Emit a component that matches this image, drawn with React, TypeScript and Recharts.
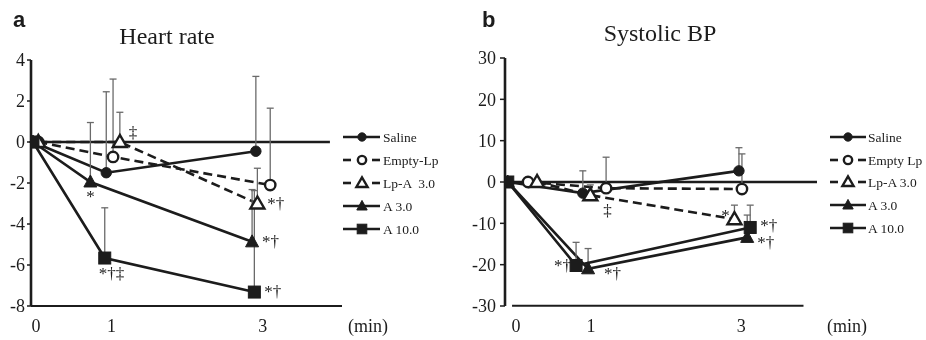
import React from 'react';
import { LineChart, Line, XAxis, YAxis, ErrorBar, ReferenceLine } from 'recharts';

const INK = '#1c1c1c';
const BAR = '#6a6a6a';
const SERIF = 'Liberation Serif, Tinos, Times New Roman, DejaVu Serif, serif';
const SANS = 'Liberation Sans, Arial, sans-serif';

// ---- shared ----
const timeTicks = [0, 1, 3];
const hrTicks = [-8, -6, -4, -2, 0, 2, 4];
const bpTicks = [-30, -20, -10, 0, 10, 20, 30];
const hrLegendLabels = ['Saline', 'Empty-Lp', 'Lp-A  3.0', 'A 3.0', 'A 10.0'];
const bpLegendLabels = ['Saline', 'Empty Lp', 'Lp-A 3.0', 'A 3.0', 'A 10.0'];
const markerShapes = ['filledCircle', 'openCircle', 'openTriangle', 'filledTriangle', 'filledSquare'];
const dashedFlags = [false, true, true, false, false];

// ---- a: Heart rate (plotted time, change, +SD, annotation) ----
const hrSalineTime = [-0.04, 0.93, 2.91];
const hrSalineValue = [0, -1.5, -0.45];
const hrSalineSD = [0, 3.95, 3.65];
const hrSalineNote = ['', '', ''];
const hrSalinePlace = ['', '', ''];

const hrEmptyTime = [0.03, 1.02, 3.1];
const hrEmptyValue = [0, -0.73, -2.1];
const hrEmptySD = [0, 3.8, 3.75];
const hrEmptyNote = ['', '', ''];
const hrEmptyPlace = ['', '', ''];

const hrLpATime = [0.03, 1.11, 2.93];
const hrLpAValue = [0, 0, -3.0];
const hrLpASD = [0, 1.45, 1.72];
const hrLpANote = ['', '‡', '*†'];
const hrLpAPlace = ['', 'aboveRight', 'right'];

const hrA3Time = [-0.04, 0.72, 2.86];
const hrA3Value = [0, -1.95, -4.87];
const hrA3SD = [0, 2.9, 2.55];
const hrA3Note = ['', '*', '*†'];
const hrA3Place = ['', 'below', 'right'];

const hrA10Time = [-0.04, 0.91, 2.89];
const hrA10Value = [0, -5.66, -7.32];
const hrA10SD = [0, 2.45, 4.95];
const hrA10Note = ['', '*†‡', '*†'];
const hrA10Place = ['', 'belowRight', 'right'];

// ---- b: Systolic BP ----
const bpSalineTime = [-0.11, 0.89, 2.97];
const bpSalineValue = [0, -2.7, 2.7];
const bpSalineSD = [0, 5.4, 5.6];
const bpSalineNote = ['', '', ''];
const bpSalinePlace = ['', '', ''];

const bpEmptyTime = [0.16, 1.2, 3.01];
const bpEmptyValue = [0, -1.5, -1.7];
const bpEmptySD = [0, 7.5, 8.5];
const bpEmptyNote = ['', '', ''];
const bpEmptyPlace = ['', '', ''];

const bpLpATime = [0.28, 0.99, 2.91];
const bpLpAValue = [0, -3.2, -9.0];
const bpLpASD = [0, 2.5, 3.4];
const bpLpANote = ['', '‡', '*'];
const bpLpAPlace = ['', 'farBelowRight', 'upLeft'];

const bpA3Time = [-0.11, 0.96, 3.08];
const bpA3Value = [0, -21, -13.4];
const bpA3SD = [0, 4.9, 5.4];
const bpA3Note = ['', '*†', '*†'];
const bpA3Place = ['', 'lowRight', 'rightLow'];

const bpA10Time = [-0.11, 0.8, 3.12];
const bpA10Value = [0, -20.2, -11];
const bpA10SD = [0, 5.6, 5.4];
const bpA10Note = ['', '*†', '*†'];
const bpA10Place = ['', 'left', 'rightHigh'];

type S = { time: number[]; value: number[]; sd: number[]; note: string[]; place: string[] };

const hrSeries: S[] = [
  { time: hrSalineTime, value: hrSalineValue, sd: hrSalineSD, note: hrSalineNote, place: hrSalinePlace },
  { time: hrEmptyTime, value: hrEmptyValue, sd: hrEmptySD, note: hrEmptyNote, place: hrEmptyPlace },
  { time: hrLpATime, value: hrLpAValue, sd: hrLpASD, note: hrLpANote, place: hrLpAPlace },
  { time: hrA3Time, value: hrA3Value, sd: hrA3SD, note: hrA3Note, place: hrA3Place },
  { time: hrA10Time, value: hrA10Value, sd: hrA10SD, note: hrA10Note, place: hrA10Place },
];
const bpSeries: S[] = [
  { time: bpSalineTime, value: bpSalineValue, sd: bpSalineSD, note: bpSalineNote, place: bpSalinePlace },
  { time: bpEmptyTime, value: bpEmptyValue, sd: bpEmptySD, note: bpEmptyNote, place: bpEmptyPlace },
  { time: bpLpATime, value: bpLpAValue, sd: bpLpASD, note: bpLpANote, place: bpLpAPlace },
  { time: bpA3Time, value: bpA3Value, sd: bpA3SD, note: bpA3Note, place: bpA3Place },
  { time: bpA10Time, value: bpA10Value, sd: bpA10SD, note: bpA10Note, place: bpA10Place },
];

const buildRows = (s: S) =>
  s.time.map((t, i) => ({ x: t, y: s.value[i], err: [0, s.sd[i]], note: s.note[i], place: s.place[i] }));

const notePlacement: Record<string, { dx: number; dy: number; anchor: string }> = {
  below: { dx: 0, dy: 20, anchor: 'middle' },
  belowRight: { dx: -6, dy: 21, anchor: 'start' },
  aboveRight: { dx: 9, dy: -4, anchor: 'start' },
  right: { dx: 10, dy: 5, anchor: 'start' },
  rightHigh: { dx: 10, dy: 4, anchor: 'start' },
  rightLow: { dx: 10, dy: 11, anchor: 'start' },
  left: { dx: -5, dy: 6, anchor: 'end' },
  lowRight: { dx: 16, dy: 10, anchor: 'start' },
  farBelowRight: { dx: 13, dy: 21, anchor: 'start' },
  upLeft: { dx: -9, dy: 2, anchor: 'middle' },
};

function Marker({ shape, cx, cy, k = 1 }: { shape: string; cx: number; cy: number; k?: number }) {
  switch (shape) {
    case 'filledCircle':
      return <circle cx={cx} cy={cy} r={5.2 * k} fill={INK} stroke={INK} strokeWidth={1} />;
    case 'openCircle':
      return <circle cx={cx} cy={cy} r={5.2 * k} fill="#fff" stroke={INK} strokeWidth={2.4} />;
    case 'openTriangle': {
      const w = 7 * k;
      return (
        <polygon
          points={`${cx},${cy - 7 * k} ${cx - w},${cy + 5 * k} ${cx + w},${cy + 5 * k}`}
          fill="#fff"
          stroke={INK}
          strokeWidth={2.4}
        />
      );
    }
    case 'filledTriangle': {
      const w = 6.5 * k;
      return (
        <polygon
          points={`${cx},${cy - 7 * k} ${cx - w},${cy + 5 * k} ${cx + w},${cy + 5 * k}`}
          fill={INK}
          stroke={INK}
          strokeWidth={1}
        />
      );
    }
    default:
      return <rect x={cx - 6 * k} y={cy - 6 * k} width={12 * k} height={12 * k} fill={INK} stroke={INK} strokeWidth={1} />;
  }
}

const makeDot = (shape: string) => (p: any) => {
  const { cx, cy, payload, index } = p;
  if (cx == null || cy == null || isNaN(cx) || isNaN(cy)) return <g key={`e${index}`} />;
  const pl = payload && payload.place ? notePlacement[payload.place] : null;
  return (
    <g key={`d${index}`}>
      <Marker shape={shape} cx={cx} cy={cy} />
      {payload && payload.note && pl ? (
        <text
          x={cx + pl.dx}
          y={cy + pl.dy}
          textAnchor={pl.anchor as any}
          style={{ fontFamily: SERIF, fontSize: 17, fill: INK }}
        >
          {payload.note}
        </text>
      ) : null}
    </g>
  );
};

const renderLines = (series: S[], prefix: string) =>
  series.map((s, i) => (
    <Line
      key={`${prefix}${i}`}
      data={buildRows(s)}
      dataKey="y"
      type="linear"
      stroke={INK}
      strokeWidth={2.6}
      strokeDasharray={dashedFlags[i] ? '9 5' : undefined}
      dot={makeDot(markerShapes[i])}
      activeDot={false}
      isAnimationActive={false}
      legendType="none"
    >
      <ErrorBar dataKey="err" direction="y" width={3.5} stroke={BAR} strokeWidth={1.3} isAnimationActive={false} />
    </Line>
  ));

const hrXDomain = [-0.066, 4.05];
const hrZeroEnd = 3.89;
const bpXDomain = [-0.147, 4.01];
const bpBaseStart = -0.053;
const bpBaseEnd = 3.83;
const bpBaseY = -29.96;

function LegendBlock({ labels, x1, x2, mx, tx, ys }: { labels: string[]; x1: number; x2: number; mx: number; tx: number; ys: number[] }) {
  return (
    <g>
      {labels.map((lab, i) => (
        <g key={lab + i}>
          {dashedFlags[i] ? (
            <>
              <line x1={x1} y1={ys[i]} x2={x1 + 8} y2={ys[i]} stroke={INK} strokeWidth={2.6} />
              <line x1={x2 - 8} y1={ys[i]} x2={x2} y2={ys[i]} stroke={INK} strokeWidth={2.6} />
            </>
          ) : (
            <line x1={x1} y1={ys[i]} x2={x2} y2={ys[i]} stroke={INK} strokeWidth={2.6} />
          )}
          <Marker shape={markerShapes[i]} cx={mx} cy={ys[i]} k={0.8} />
          <text x={tx} y={ys[i] + 4.5} style={{ fontFamily: SERIF, fontSize: 13.5, fill: INK, whiteSpace: 'pre' }}>
            {lab}
          </text>
        </g>
      ))}
    </g>
  );
}

export default function App() {
  const tickStyle = { fontSize: 18, fill: INK, style: { fontFamily: SERIF } };
  const serifText = { fontFamily: SERIF, fill: INK };
  return (
    <div style={{ position: 'absolute', left: 0, top: 0, width: 926, height: 340, background: '#fff', fontFamily: SERIF }}>
      <div style={{ position: 'absolute', left: 0, top: 0, willChange: 'transform' }}>
        <LineChart width={460} height={340} margin={{ top: 60, right: 118, bottom: 4, left: 0 }} style={{ fontFamily: SERIF }}>
          <XAxis
            type="number"
            dataKey="x"
            domain={hrXDomain}
            allowDataOverflow
            ticks={timeTicks}
            tickLine={false}
            tickSize={6}
            tickMargin={7}
            height={30}
            axisLine={{ stroke: INK, strokeWidth: 2 }}
            tick={tickStyle}
          />
          <YAxis
            type="number"
            domain={[-8, 4]}
            allowDataOverflow
            ticks={hrTicks}
            width={31}
            tickSize={4}
            tickMargin={2}
            axisLine={{ stroke: INK, strokeWidth: 2.6 }}
            tickLine={{ stroke: INK, strokeWidth: 1.5 }}
            tick={tickStyle}
          />
          <ReferenceLine
            segment={[
              { x: hrXDomain[0], y: 0 },
              { x: hrZeroEnd, y: 0 },
            ]}
            stroke={INK}
            strokeWidth={2.6}
            ifOverflow="visible"
          />
          {renderLines(hrSeries, 'hr')}
        </LineChart>
      </div>
      <div style={{ position: 'absolute', left: 460, top: 0, willChange: 'transform' }}>
        <LineChart width={466} height={340} margin={{ top: 58, right: 109, bottom: 4, left: 0 }} style={{ fontFamily: SERIF }}>
          <XAxis
            type="number"
            dataKey="x"
            domain={bpXDomain}
            allowDataOverflow
            ticks={timeTicks}
            tickLine={false}
            tickSize={6}
            tickMargin={7}
            height={30}
            axisLine={false}
            tick={tickStyle}
          />
          <YAxis
            type="number"
            domain={[-30, 30]}
            allowDataOverflow
            ticks={bpTicks}
            width={45}
            tickSize={5}
            tickMargin={4}
            axisLine={{ stroke: INK, strokeWidth: 2.6 }}
            tickLine={{ stroke: INK, strokeWidth: 1.5 }}
            tick={tickStyle}
          />
          <ReferenceLine y={0} stroke={INK} strokeWidth={2.4} ifOverflow="visible" />
          <ReferenceLine
            segment={[
              { x: bpBaseStart, y: bpBaseY },
              { x: bpBaseEnd, y: bpBaseY },
            ]}
            stroke={INK}
            strokeWidth={2}
            ifOverflow="visible"
          />
          {renderLines(bpSeries, 'bp')}
        </LineChart>
      </div>
      <svg
        width={926}
        height={340}
        style={{ position: 'absolute', left: 0, top: 0, pointerEvents: 'none', willChange: 'transform' }}
      >
        <text x={13} y={27} style={{ fontFamily: SANS, fontWeight: 'bold', fontSize: 22, fill: INK }}>a</text>
        <text x={482} y={27} style={{ fontFamily: SANS, fontWeight: 'bold', fontSize: 22, fill: INK }}>b</text>
        <text x={167} y={44} textAnchor="middle" style={{ ...serifText, fontSize: 24 }}>Heart rate</text>
        <text x={660} y={41} textAnchor="middle" style={{ ...serifText, fontSize: 24 }}>Systolic BP</text>
        <text x={368} y={332} textAnchor="middle" style={{ ...serifText, fontSize: 18 }}>(min)</text>
        <text x={847} y={332} textAnchor="middle" style={{ ...serifText, fontSize: 18 }}>(min)</text>
        <LegendBlock labels={hrLegendLabels} x1={343} x2={380} mx={362} tx={383} ys={[137, 160, 183, 206, 229]} />
        <LegendBlock labels={bpLegendLabels} x1={830} x2={866} mx={848} tx={868} ys={[137, 160, 182, 205, 228]} />
      </svg>
    </div>
  );
}
